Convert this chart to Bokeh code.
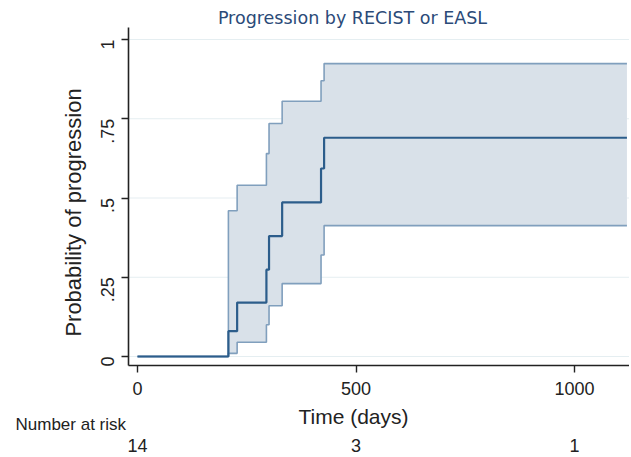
import math
from bokeh.plotting import figure
from bokeh.models import FixedTicker, Label, Range1d
from bokeh.embed import file_html
from bokeh.resources import INLINE

# ---- data ----
event_days = [208, 228, 295, 301, 331, 420, 427]
prob = [0.08, 0.17, 0.274, 0.38, 0.486, 0.593, 0.69]
upper = [0.46, 0.54, 0.64, 0.735, 0.805, 0.87, 0.924]
lower = [0.01, 0.045, 0.10, 0.16, 0.23, 0.32, 0.413]
end_day = 1120
risk_times = [0, 500, 1000]
risk_numbers = [14, 3, 1]
x_ticks = [0, 500, 1000]
y_ticks = [0, 0.25, 0.5, 0.75, 1]
y_tick_labels = ["0", ".25", ".5", ".75", "1"]

xs = [0] + event_days + [end_day]
ys = [0] + prob + [prob[-1]]
us = [0] + upper + [upper[-1]]
ls = [0] + lower + [lower[-1]]

# ---- layout (pixel geometry of the canvas) ----
W, H = 629, 455
PX_DAY = 0.437        # pixels per day
X0_PX = 137           # canvas x of day 0
PX_UNIT = 317         # pixels per probability unit
Y0_PX = 356           # canvas y of probability 0
AXIS_X_PX = 128       # canvas x of the y-axis line
AXIS_Y_PX = 365       # canvas y of the x-axis line
AXIS_TOP_PX = 27


def dx(px):
    return (px - X0_PX) / PX_DAY


def dy(py):
    return (Y0_PX - py) / PX_UNIT


FONT = "Liberation Sans"
MAIN = "#2c5d8b"
CI = "#809fbd"
FILL = "#d9e1e9"
TXT = "#222222"

p = figure(width=W, height=H, output_backend="svg", toolbar_location=None,
           x_range=Range1d(dx(0), dx(W)), y_range=Range1d(dy(H), dy(0)),
           min_border=0)
p.outline_line_color = None
p.title.visible = False
p.xgrid.visible = False
p.ygrid.visible = False

# horizontal grid lines
p.segment(x0=dx(AXIS_X_PX), x1=dx(W), y0=y_ticks, y1=y_ticks,
          line_color="#e5eef1", line_width=1.2)

p.varea_step(x=xs, y1=ls, y2=us, step_mode="after", fill_color=FILL)
p.step(xs, us, mode="after", line_color=CI, line_width=1.6)
p.step(xs, ls, mode="after", line_color=CI, line_width=1.6)
p.step(xs, ys, mode="after", line_color=MAIN, line_width=2.2)

p.xaxis.fixed_location = dy(AXIS_Y_PX)
p.xaxis.bounds = (dx(AXIS_X_PX), dx(W))
p.yaxis.fixed_location = dx(AXIS_X_PX)
p.yaxis.bounds = (dy(AXIS_Y_PX), dy(AXIS_TOP_PX))
p.xaxis.ticker = FixedTicker(ticks=x_ticks)
p.yaxis.ticker = FixedTicker(ticks=y_ticks)
p.yaxis.major_label_overrides = {t: s for t, s in zip(y_ticks, y_tick_labels)}
p.yaxis.major_label_orientation = math.pi / 2
for ax in (p.xaxis, p.yaxis):
    ax.axis_line_color = TXT
    ax.axis_line_width = 1.6
    ax.major_tick_line_color = TXT
    ax.major_tick_line_width = 1.4
    ax.major_tick_out = 7
    ax.major_tick_in = 0
    ax.minor_tick_line_color = None
    ax.major_label_text_font = FONT
    ax.major_label_text_font_size = "18px"
    ax.major_label_text_color = TXT
p.xaxis.major_label_standoff = 9
p.yaxis.major_label_standoff = 14


def add_label(x, y, text, size, angle=0.0, align="center", xu="screen",
              color=TXT, font=FONT):
    p.add_layout(Label(x=x, y=H - y, x_units=xu, y_units="screen", text=text,
                       text_font=font, text_font_size=size, text_color=color,
                       text_align=align, text_baseline="middle", angle=angle))


add_label(352, 17, "Progression by RECIST or EASL", "17.5px",
          color="#2b4a78", font="DejaVu Sans")
add_label(353, 416, "Time (days)", "21px")
add_label(73, 212, "Probability of progression", "22px", angle=math.pi / 2)
add_label(15, 424, "Number at risk", "17px", align="left")
for t, n in zip(risk_times, risk_numbers):
    add_label(t, 445, str(n), "18px", xu="data")

open("out.html", "w").write(file_html(p, INLINE))
